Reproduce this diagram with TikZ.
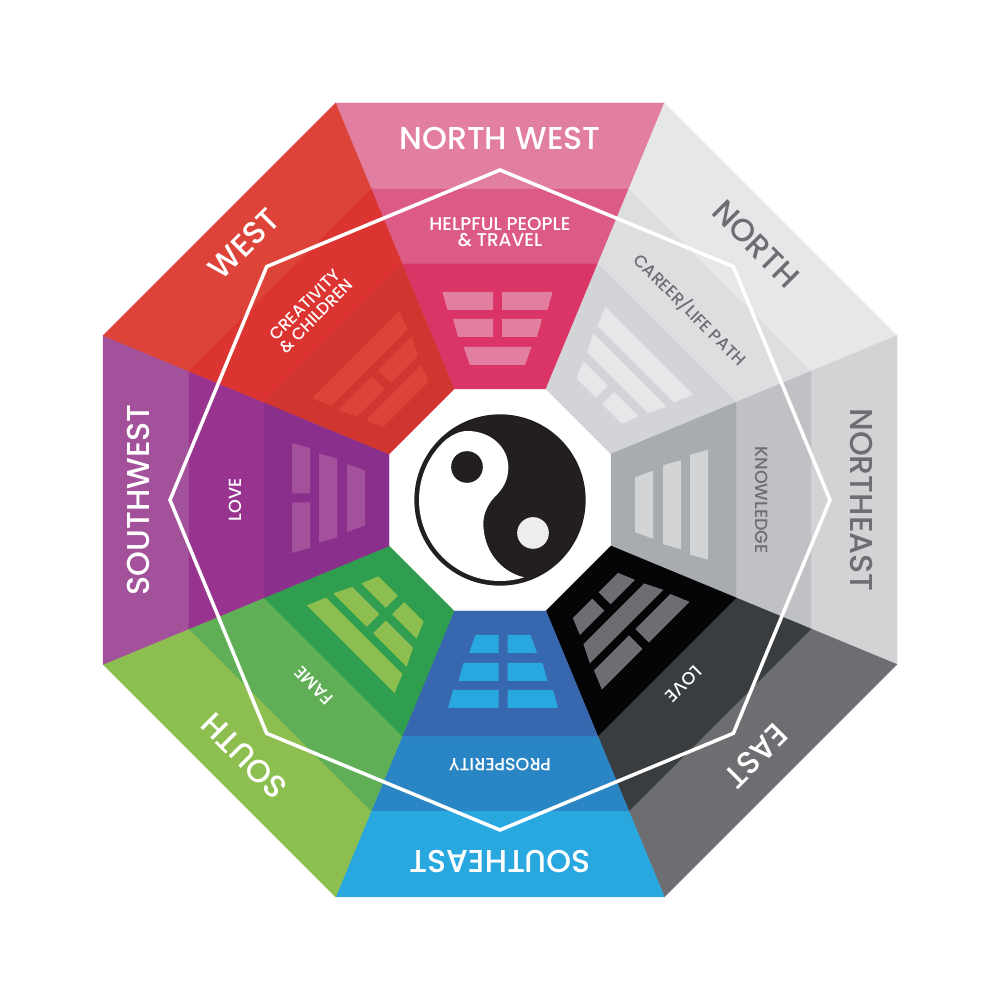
\documentclass[tikz,border=0pt]{standalone}
\usepackage{fontspec}
\setmainfont{Poppins Medium}
\definecolor{nwa}{HTML}{E27FA0}\definecolor{nwb}{HTML}{DC5A86}\definecolor{nwc}{HTML}{DB3567}\definecolor{nwd}{HTML}{E27FA0}
\definecolor{nna}{HTML}{E6E7E8}\definecolor{nnb}{HTML}{DDDEE0}\definecolor{nnc}{HTML}{D2D4D7}\definecolor{nnd}{HTML}{E6E7E8}
\definecolor{nea}{HTML}{D1D3D4}\definecolor{neb}{HTML}{BFC1C4}\definecolor{nec}{HTML}{A9ACAF}\definecolor{ned}{HTML}{D1D3D4}
\definecolor{eea}{HTML}{6D6E71}\definecolor{eeb}{HTML}{3A3D3F}\definecolor{eec}{HTML}{050507}\definecolor{eed}{HTML}{6D6E71}
\definecolor{sea}{HTML}{29A8E0}\definecolor{seb}{HTML}{2A85C4}\definecolor{sec}{HTML}{3767AE}\definecolor{sed}{HTML}{29A8E0}
\definecolor{ssa}{HTML}{8DBF50}\definecolor{ssb}{HTML}{60AF57}\definecolor{ssc}{HTML}{2F9E4F}\definecolor{ssd}{HTML}{8DBF50}
\definecolor{swa}{HTML}{A2519A}\definecolor{swb}{HTML}{98348F}\definecolor{swc}{HTML}{8A2F8C}\definecolor{swd}{HTML}{A2519A}
\definecolor{wwa}{HTML}{DD4339}\definecolor{wwb}{HTML}{DC3430}\definecolor{wwc}{HTML}{D03530}\definecolor{wwd}{HTML}{DD4339}
\definecolor{ink}{HTML}{231F20}\definecolor{pale}{HTML}{EDEDED}\definecolor{greytext}{HTML}{6D6E71}
\newcommand{\bandq}[3]{\fill[#3,draw=#3,line width=.1pt] ({-#1*0.41421},#1) -- ({#1*0.41421},#1) -- ({#2*0.41421},#2) -- ({-#2*0.41421},#2) -- cycle;}
\newcommand{\trirow}[6]{%
 \if#5S
  \fill[#6] ({\xo-#3},{#1+\ds}) -- ({\xo+#3},{#1+\ds}) -- ({\xo+#4},{#2+\ds}) -- ({\xo-#4},{#2+\ds}) -- cycle;
 \else
  \fill[#6] ({\xo-#3},{#1+\ds}) -- ({\xo-4.5},{#1+\ds}) -- ({\xo-4.5},{#2+\ds}) -- ({\xo-#4},{#2+\ds}) -- cycle;
  \fill[#6] ({\xo+#3},{#1+\ds}) -- ({\xo+4.5},{#1+\ds}) -- ({\xo+4.5},{#2+\ds}) -- ({\xo+#4},{#2+\ds}) -- cycle;
 \fi}
\tikzset{
 big/.style={font=\fontsize{9}{10}\selectfont,white,inner sep=0pt},
 bigg/.style={big,text=greytext},
 small/.style={white,inner sep=0pt,align=center},
 smallg/.style={small,text=greytext},
 ring/.style={white,line width=1pt,line join=miter}
}
\newcommand{\fs}[1]{\fontsize{#1}{4.55}\selectfont}
\begin{document}
\begin{tikzpicture}[x=0.01cm,y=0.01cm]
\useasboundingbox (0,0) rectangle (1000,1000);
\fill[white] (0,0) rectangle (1000,1000);
\begin{scope}[shift={(500,500)}]
\foreach \s/\a/\xo/\ds/\g/\ra/\rb/\rc in {nw/0/-2.5/0/0/B/B/S,nn/-45/0/0/1/S/S/B,ne/-90/4.7/0/0/S/S/S,ee/-135/0/-5/1/B/S/B,se/180/-3/0/0/B/B/B,ss/135/0/0/1/S/B/B,sw/90/2/0/0/B/S/S,ww/45/1/-6/1/S/B/S}{
 \begin{scope}[rotate=\a]
  \bandq{397}{311}{\s a}
  \bandq{311}{236}{\s b}
  \bandq{236}{111}{\s c}
  \ifnum\g=0
   \trirow{208}{190}{55}{50}{\ra}{\s d}
   \trirow{181}{163}{44.5}{39.5}{\rb}{\s d}
   \trirow{153}{135}{34}{27.5}{\rc}{\s d}
  \else
   \trirow{211}{192}{62}{54}{\ra}{\s d}
   \trirow{184}{166}{52}{43}{\rb}{\s d}
   \trirow{157}{140}{39}{32}{\rc}{\s d}
  \fi
 \end{scope}
}
\draw[ring] (90:330) -- (45:330) -- (0:330) -- (-45:330) -- (-90:330) -- (-135:330) -- (180:330) -- (135:330) -- cycle;
\node[big] (lnw) at (90:362) {NORTH WEST};
\node[bigg,rotate=-45] (lnn) at (45:362) {NORTH};
\node[bigg,rotate=-90] (lne) at (0:362) {NORTHEAST};
\node[big,rotate=-135] (lee) at (-45:362) {EAST};
\node[big,rotate=180] (lse) at (-90:362) {SOUTHEAST};
\node[big,rotate=135] (lss) at (-135:362) {SOUTH};
\node[big,rotate=90] (lsw) at (180:362) {SOUTHWEST};
\node[big,rotate=45] (lww) at (135:362) {WEST};
\node[small,font=\fs{5.25}] (mnw) at (90:268) {HELPFUL PEOPLE\\\& TRAVEL};
\node[smallg,font=\fs{4.8},rotate=-45] (mnn) at (45:269) {CAREER/LIFE PATH};
\node[smallg,font=\fs{5},rotate=-90] (mne) at (0:262) {KNOWLEDGE};
\node[small,font=\fs{5},rotate=-135] (mee) at (-45:260) {LOVE};
\node[small,font=\fs{5},rotate=180] (mse) at (-90:265) {PROSPERITY};
\node[small,font=\fs{5},rotate=135] (mss) at (-135:263) {FAME};
\node[small,font=\fs{5},rotate=90] (msw) at (180:265) {LOVE};
\node[small,font=\fs{4.7},rotate=45] (mww) at (135:268) {CREATIVITY\\\& CHILDREN};
\end{scope}
\begin{scope}[shift={(380,620)},xscale=1/3,yscale=-1/3]
 \fill[ink] (360,360) circle (257);
 \begin{scope}
  \clip (360,360) circle (243);
  \fill[white] (432,592) -- (432,660) -- (40,660) -- (40,40) -- (190,185)
   .. controls (215,165) and (238,153) .. (262,153)
   .. controls (330,153) and (385,200) .. (385,262)
   .. controls (385,300) and (370,325) .. (345,350)
   .. controls (325,370) and (310,400) .. (310,430)
   .. controls (310,510) and (360,575) .. (432,592) -- cycle;
 \end{scope}
 \fill[ink] (261,261) circle (47.5);
 \fill[pale] (459,459) circle (47.5);
\end{scope}
\end{tikzpicture}
\end{document}
